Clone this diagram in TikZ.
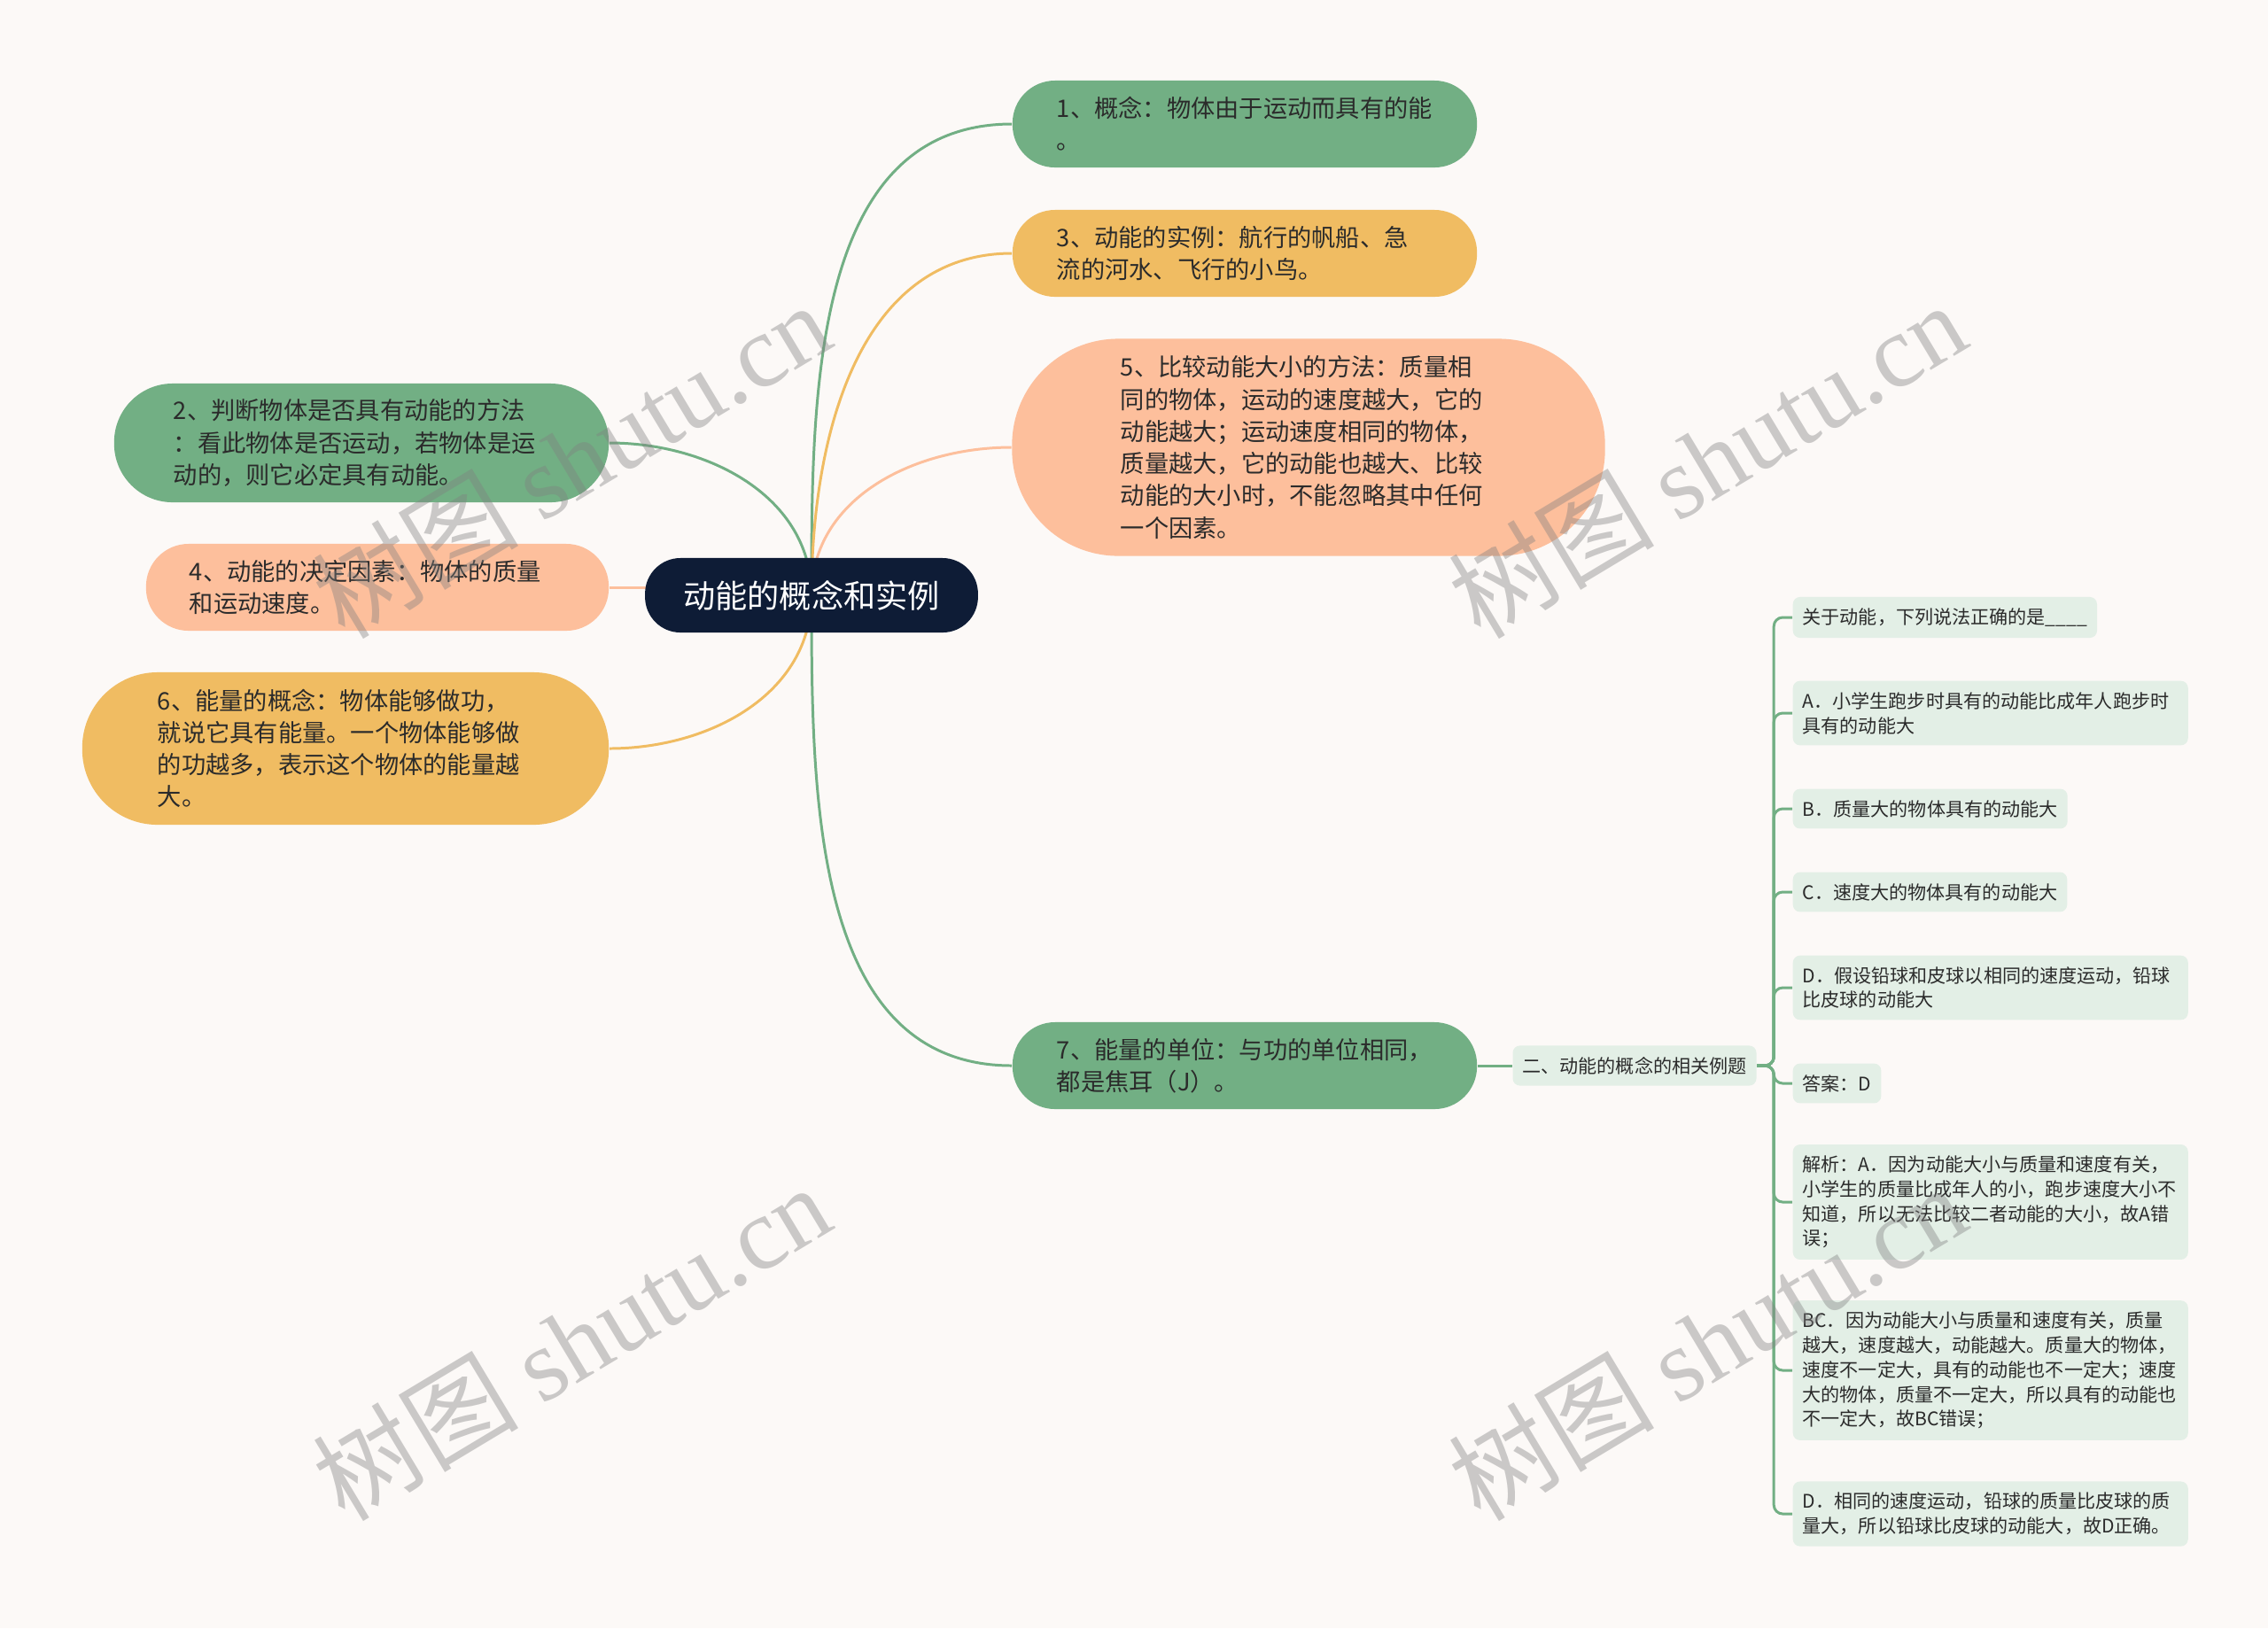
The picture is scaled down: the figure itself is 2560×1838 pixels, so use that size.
\documentclass[tikz,border=0pt]{standalone}
\usepackage{fontspec}
\setmainfont{Noto Sans CJK SC}
\newfontfamily\wmfont{Liberation Serif}
\usepackage{xcolor}
\usepackage{tikz}
\usetikzlibrary{positioning,calc,backgrounds}
\definecolor{bg}{HTML}{FCF9F7}
\definecolor{navy}{HTML}{0E1C36}
\definecolor{leafgreen}{HTML}{72AF84}
\definecolor{sun}{HTML}{F0BC62}
\definecolor{peach}{HTML}{FDBF9C}
\definecolor{mint}{HTML}{E3EFE6}
\definecolor{ink}{HTML}{2B2B2B}

\tikzset{
    topic/.style={text width=4.24cm, align=left, text=ink, inner ysep=0pt,
                  font=\fontsize{7.75}{10.3}\selectfont},
    quiz/.style={fill=mint, rounded corners=2.3pt, text=ink, align=left,
                 inner xsep=3.1pt, inner ysep=3.6pt, anchor=west,
                 font=\fontsize{6}{7.9}\selectfont},
    link/.style={line width=0.85pt},
    wmark/.style={text=gray, text opacity=0.4, rotate=31,
                  font=\fontsize{33}{33}\selectfont}
}

\begin{document}
\begin{tikzpicture}[x=0.01cm,y=-0.01cm]
    \useasboundingbox (0,0) rectangle (2560,1838);

    \node[fill=navy, text=white, rounded corners=0.4cm, inner xsep=0.43cm,
          minimum height=0.84cm, font=\fontsize{10.3}{12}\selectfont]
        (root) at (916,672) {动能的概念和实例};

    \node[topic, fill=leafgreen, inner xsep=0.5cm, minimum height=0.98cm,
          rounded corners=0.48cm] (n1) at (1405,140)
        {1、概念：物体由于运动而具有的能\\。};
    \node[topic, fill=sun, inner xsep=0.5cm, minimum height=0.98cm,
          rounded corners=0.48cm] (n3) at (1405,286)
        {3、动能的实例：航行的帆船、急\\流的河水、飞行的小鸟。};
    \node[topic, fill=peach, inner xsep=1.225cm, minimum height=2.45cm,
          rounded corners=1.2cm] (n5) at (1477,505)
        {5、比较动能大小的方法：质量相\\同的物体，运动的速度越大，它的\\动能越大；运动速度相同的物体，\\质量越大，它的动能也越大、比较\\动能的大小时，不能忽略其中任何\\一个因素。};
    \node[topic, fill=leafgreen, inner xsep=0.5cm, minimum height=0.98cm,
          rounded corners=0.48cm] (n7) at (1405,1203)
        {7、能量的单位：与功的单位相同，\\都是焦耳（J）。};
    \node[topic, fill=leafgreen, inner xsep=0.67cm, minimum height=1.34cm,
          rounded corners=0.66cm] (n2) at (408,500)
        {2、判断物体是否具有动能的方法\\：看此物体是否运动，若物体是运\\动的，则它必定具有动能。};
    \node[topic, fill=peach, inner xsep=0.49cm, minimum height=0.98cm,
          rounded corners=0.48cm] (n4) at (426,663)
        {4、动能的决定因素：物体的质量\\和运动速度。};
    \node[topic, fill=sun, inner xsep=0.85cm, minimum height=1.72cm,
          rounded corners=0.85cm] (n6) at (390,845)
        {6、能量的概念：物体能够做功，\\就说它具有能量。一个物体能够做\\的功越多，表示这个物体的能量越\\大。};

    \node[quiz, anchor=center] (ex) at (1845,1203) {二、动能的概念的相关例题};

    \node[quiz] (q0) at (2023,697) {关于动能，下列说法正确的是\_\_\_\_};
    \node[quiz, text width=4.24cm] (qa) at (2023,805)
        {A．小学生跑步时具有的动能比成年人跑步时\\具有的动能大};
    \node[quiz] (qb) at (2023,913) {B．质量大的物体具有的动能大};
    \node[quiz] (qc) at (2023,1007) {C．速度大的物体具有的动能大};
    \node[quiz, text width=4.24cm] (qd) at (2023,1115)
        {D．假设铅球和皮球以相同的速度运动，铅球\\比皮球的动能大};
    \node[quiz] (ans) at (2023,1223) {答案：D};
    \node[quiz, text width=4.24cm] (ja) at (2023,1357)
        {解析：A．因为动能大小与质量和速度有关，\\小学生的质量比成年人的小，跑步速度大小不\\知道，所以无法比较二者动能的大小，故A错\\误；};
    \node[quiz, text width=4.24cm] (jbc) at (2023,1547)
        {BC．因为动能大小与质量和速度有关，质量\\越大，速度越大，动能越大。质量大的物体，\\速度不一定大，具有的动能也不一定大；速度\\大的物体，质量不一定大，所以具有的动能也\\不一定大，故BC错误；};
    \node[quiz, text width=4.24cm] (jd) at (2023,1709)
        {D．相同的速度运动，铅球的质量比皮球的质\\量大，所以铅球比皮球的动能大，故D正确。};

    \begin{scope}[on background layer]
        \fill[bg] (0,0) rectangle (2560,1838);
        \draw[link,leafgreen] (root.center) to[out=90,in=180] (n1.west);
        \draw[link,sun] (root.center) to[out=90,in=180] (n3.west);
        \draw[link,peach] (root.center) to[out=90,in=180] (n5.west);
        \draw[link,leafgreen] (root.center) to[out=-90,in=180] (n7.west);
        \draw[link,leafgreen] (root.center) to[out=90,in=0] (n2.east);
        \draw[link,peach] (n4.east) -- (n4.east -| root.center);
        \draw[link,sun] (root.center) to[out=-90,in=0] (n6.east);
        \draw[link,leafgreen] (n7.east) -- (ex.west);
        \draw[link,leafgreen,rounded corners=0.1cm] (ex.east) -- ++(19,0) |- (q0.west);
        \draw[link,leafgreen,rounded corners=0.1cm] (ex.east) -- ++(19,0) |- (qa.west);
        \draw[link,leafgreen,rounded corners=0.1cm] (ex.east) -- ++(19,0) |- (qb.west);
        \draw[link,leafgreen,rounded corners=0.1cm] (ex.east) -- ++(19,0) |- (qc.west);
        \draw[link,leafgreen,rounded corners=0.1cm] (ex.east) -- ++(19,0) |- (qd.west);
        \draw[link,leafgreen,rounded corners=0.1cm] (ex.east) -- ++(19,0) |- (ans.west);
        \draw[link,leafgreen,rounded corners=0.1cm] (ex.east) -- ++(19,0) |- (ja.west);
        \draw[link,leafgreen,rounded corners=0.1cm] (ex.east) -- ++(19,0) |- (jbc.west);
        \draw[link,leafgreen,rounded corners=0.1cm] (ex.east) -- ++(19,0) |- (jd.west);
    \end{scope}

    \node[wmark] (wm1) at (645,519) {树图 {\wmfont shutu.cn}};
    \node[wmark] (wm2) at (1927,519) {树图 {\wmfont shutu.cn}};
    \node[wmark] (wm3) at (645,1515) {树图 {\wmfont shutu.cn}};
    \node[wmark] (wm4) at (1927,1515) {树图 {\wmfont shutu.cn}};
\end{tikzpicture}
\end{document}
